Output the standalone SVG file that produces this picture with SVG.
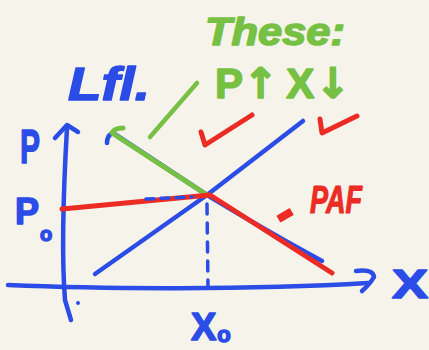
<svg xmlns="http://www.w3.org/2000/svg" width="429" height="350" viewBox="0 0 429 350">
<style>
.ink{fill:none;stroke-linecap:round;stroke-linejoin:round}
.b{stroke:#2b4ce6}
.g{stroke:#76c043}
.r{stroke:#ec2b24}
.t{font-family:"Liberation Sans",Arial,sans-serif;font-weight:bold;stroke-linejoin:round}
.tb{fill:#2b4ce6;stroke:#2b4ce6;stroke-width:1.5}
.tg{fill:#76c043;stroke:#76c043;stroke-width:1.5}
.tr{fill:#ec2b24;stroke:#ec2b24;stroke-width:1.2}
.arr{font-family:"DejaVu Sans",sans-serif}
</style>
<rect width="429" height="350" fill="#f6f4ea"/>
<g id="axes">
<path class="ink b" stroke-width="4.5" d="M67,128 C64,180 61,250 65,300 L71,320"/>
<path class="ink b" stroke-width="4.5" d="M55,138 L67,125 L78,132"/>
<path class="ink b" stroke-width="4.5" d="M8,285 C100,289 250,290 368,283"/>
<path class="ink b" stroke-width="4.5" d="M356,271 Q373,269 374,277 Q370,284 362,291"/>
<circle cx="78" cy="303" r="2" fill="#2b4ce6"/>
</g>
<g id="connectors">
<path id="supply" class="ink b" stroke-width="4.5" d="M95,274 Q150,235 207,195 L303,121"/>
<path id="demand" class="ink b" stroke-width="4.5" d="M107,143 Q107,135 113,133 L207,195 Q270,233 322,261"/>
<path id="green-seg" class="ink g" stroke-width="5" d="M123,128 Q114,128 112,133 L207,195"/>
<path id="green-pointer" class="ink g" stroke-width="4.5" d="M197,83 L150,137"/>
<path id="red-paf" class="ink r" stroke-width="5" d="M62,209 L210,195 Q280,240 332,273"/>
<path id="dash-h" class="ink b" stroke-width="3.5" stroke-dasharray="8 7" d="M146,199 L192,197"/>
<path id="dash-v" class="ink b" stroke-width="3.5" stroke-dasharray="10 9" d="M207,204 L208,288"/>
</g>
<g id="checks">
<path class="ink r" stroke-width="5" d="M201,132 L205,145 L252,115"/>
<path class="ink r" stroke-width="5" d="M320,119 L322,133 L357,116"/>
</g>
<g id="labels">
<text class="t tg" x="205" y="45" font-size="38" textLength="140" lengthAdjust="spacingAndGlyphs" font-style="italic">These:</text>
<text class="t tb" x="68" y="100" font-size="46" textLength="82" lengthAdjust="spacingAndGlyphs" font-style="italic">Lfl.</text>
<text class="t tg" x="215" y="98" font-size="42">P<tspan class="arr" font-size="42">↑</tspan><tspan dx="8">X</tspan><tspan class="arr" font-size="42" dx="1">↓</tspan></text>
<text class="t tb" x="20" y="163" font-size="48" textLength="20" lengthAdjust="spacingAndGlyphs">P</text>
<text class="t tb" x="15" y="224" font-size="36">P<tspan font-size="20" dx="1" dy="17">o</tspan></text>
<text class="t tr" x="276" y="230" font-size="56" transform="rotate(-30 285 216)">-</text>
<text class="t tr" x="310" y="213" font-size="38" textLength="52" lengthAdjust="spacingAndGlyphs" font-style="italic">PAF</text>
<text class="t tb" x="392" y="298" font-size="40" textLength="36" lengthAdjust="spacingAndGlyphs">X</text>
<text class="t tb" x="191" y="340" font-size="38">X<tspan font-size="22" dx="1" dy="2">o</tspan></text>
</g>
</svg>
